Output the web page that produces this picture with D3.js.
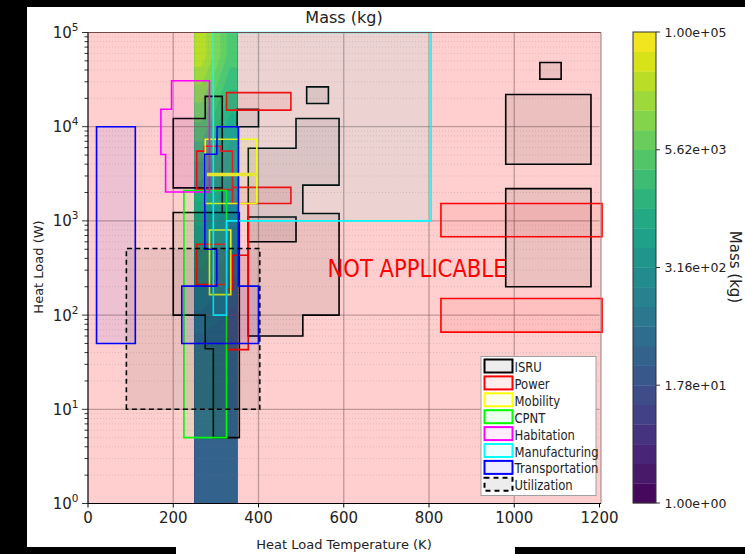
<!DOCTYPE html>
<html>
<head>
<meta charset="utf-8">
<script src="https://cdn.jsdelivr.net/npm/d3@7"></script>
<style>
  body { margin: 0; background: #fff; }
  text { font-family: "DejaVu Sans", sans-serif; }
</style>
</head>
<body>
<svg id="chart" width="745" height="554"></svg>
<script>
// ---- data ----
var xTicks = [0, 200, 400, 600, 800, 1000, 1200];
var yTicks = [1, 10, 100, 1000, 10000, 100000];
var cbTicks = [1, 17.8, 316, 5620, 100000];
var cbTickLabels = ["1.00e+00", "1.78e+01", "3.16e+02", "5.62e+03", "1.00e+05"];
var nLevels = 24;

var categories = ["ISRU", "Power", "Mobility", "CPNT", "Habitation", "Manufacturing", "Transportation", "Utilization"];
var catColors = ["#000000", "#ff0000", "#ffff00", "#00ff00", "#ff00ff", "#00ffff", "#0000ff", "#000000"];

// rectangles: [T min, T max, Q min, Q max]
var isruRects = [[1060, 1110, 32000, 48000], [980, 1180, 4000, 22000], [980, 1180, 200, 2200],
                 [513, 564, 17600, 26500], [350, 400, 10000, 15300], [376, 488, 600, 1100]];
var isruPolys = [
  [[376, 60], [376, 5900], [488, 5900], [488, 12200], [589, 12200], [589, 2400], [504, 2400], [504, 1200], [589, 1200], [589, 100], [504, 100], [504, 60]],
  [[200, 2240], [200, 12200], [275, 12200], [275, 21000], [315, 21000], [315, 1230], [315, 2240]],
  [[200, 100], [200, 1230], [355, 1230], [355, 5], [294, 5], [294, 44], [275, 44], [275, 100]]
];
var powerRects = [[325, 476, 15000, 23000], [339, 476, 1530, 2270], [255, 323, 211, 565],
                  [828, 1206, 680, 1530], [828, 1206, 66, 150]];
var powerPolys = [
  [[255, 2150], [255, 5500], [273, 5500], [273, 6200], [312, 6200], [312, 5500], [339, 5500], [339, 2150]],
  [[376, 1530], [376, 43], [327, 43], [327, 187], [339, 187], [339, 432], [376, 432]]
];
var mobilityRects = [[275, 396, 1530, 7360], [285, 335, 165, 800]];
var mobilityLines = [[[279, 3100], [396, 3100]]];
var cpntRects = [[225, 325, 5, 2100]];
var habitationPolys = [
  [[196, 30700], [285, 30700], [285, 2030], [182, 2030], [182, 5070], [171, 5070], [171, 15300], [196, 15300]]
];
var manufacturingPolys = [
  [[294, 100000], [805, 100000], [805, 1000], [325, 1000], [325, 100], [294, 100]]
];
var transportationRects = [[20, 111, 50, 10000]];
var transportationPolys = [
  [[303, 10000], [353, 10000], [353, 203], [400, 203], [400, 50], [220, 50], [220, 203], [302, 203], [302, 500], [274, 500], [274, 5100], [302, 5100]]
];
var utilizationRects = [[90, 403, 10, 510]];

// mass band (250-350 K), log10 of mass read at cell centres (rows: top to bottom)
var bandTempRange = [250, 350];
var bandLogQRange = [5, 0];
var bandLogMass = [
  [4.5, 4.1, 3.65],
  [3.95, 3.6, 3.2],
  [3.45, 3.15, 2.85],
  [2.95, 2.75, 2.5],
  [2.55, 2.35, 2.15],
  [2.05, 1.9, 1.75],
  [1.62, 1.56, 1.52],
  [1.52, 1.5, 1.5],
  [1.5, 1.5, 1.5],
  [1.5, 1.5, 1.5]
];

// ---- drawing ----
var svg = d3.select("#chart");
var x = d3.scaleLinear().domain([0, 1200]).range([88, 599.5]);
var y = d3.scaleLog().domain([1, 100000]).range([503.5, 32.5]);

svg.append("rect").attr("width", 745).attr("height", 554).attr("fill", "#fff");

// pink "not applicable" background
svg.append("rect")
  .attr("x", x(0)).attr("y", y(100000))
  .attr("width", 601 - x(0)).attr("height", y(1) - y(100000))
  .attr("fill", "#ffcfcf");

// mass band contours (grid padded by one cell on each side, then clipped)
var rows = bandLogMass.length, cols = bandLogMass[0].length;
var padded = [bandLogMass[0]].concat(bandLogMass, [bandLogMass[rows - 1]]).map(function(r) {
  return [r[0]].concat(r, [r[r.length - 1]]);
});
var bandValues = [].concat.apply([], padded);
var thresholds = d3.range(nLevels).map(function(i) { return i * 5 / nLevels; });
var contours = d3.contours().size([cols + 2, rows + 2]).thresholds(thresholds)(bandValues);
var gx = d3.scaleLinear().domain([1, cols + 1]).range(bandTempRange);
var gy = d3.scaleLinear().domain([1, rows + 1]).range(bandLogQRange);
var bandPath = d3.geoPath(d3.geoTransform({
  point: function(px, py) { this.stream.point(x(gx(px)), y(Math.pow(10, gy(py)))); }
}));
svg.append("clipPath").attr("id", "bandClip").append("rect")
  .attr("x", x(bandTempRange[0])).attr("y", y(100000))
  .attr("width", x(bandTempRange[1]) - x(bandTempRange[0])).attr("height", y(1) - y(100000));
svg.append("g").attr("clip-path", "url(#bandClip)")
  .selectAll("path").data(contours).join("path")
  .attr("d", bandPath)
  .attr("fill", function(d, i) { return d3.interpolateViridis((i + 0.5) / nLevels); })
  .attr("stroke", function(d, i) { return d3.interpolateViridis((i + 0.5) / nLevels); })
  .attr("stroke-width", 0.3);

// grid
var grid = svg.append("g");
grid.selectAll(".minor").data(y.ticks().filter(function(v) { return yTicks.indexOf(v) < 0; }))
  .join("line")
  .attr("x1", x(0)).attr("x2", x(1200))
  .attr("y1", function(d) { return y(d); }).attr("y2", function(d) { return y(d); })
  .attr("stroke", "#7f7f7f").attr("stroke-opacity", 0.35)
  .attr("stroke-dasharray", "1,2").attr("stroke-width", 0.8);
grid.selectAll(".hmaj").data(yTicks.slice(1, -1)).join("line")
  .attr("x1", x(0)).attr("x2", x(1200))
  .attr("y1", function(d) { return y(d); }).attr("y2", function(d) { return y(d); })
  .attr("stroke", "#7f6060").attr("stroke-opacity", 0.5).attr("stroke-width", 1.3);
grid.selectAll(".vmaj").data(xTicks.slice(1, -1)).join("line")
  .attr("x1", function(d) { return x(d); }).attr("x2", function(d) { return x(d); })
  .attr("y1", y(100000)).attr("y2", y(1))
  .attr("stroke", "#7f6060").attr("stroke-opacity", 0.5).attr("stroke-width", 1.3);

// shapes
function rectPoly(r) {
  return [[r[0], r[2]], [r[0], r[3]], [r[1], r[3]], [r[1], r[2]]];
}
var shapes = [];
function addShapes(cat, rects, polys) {
  (rects || []).forEach(function(r) { shapes.push({cat: cat, pts: rectPoly(r)}); });
  (polys || []).forEach(function(p) { shapes.push({cat: cat, pts: p}); });
}
addShapes(0, isruRects, isruPolys);
addShapes(1, powerRects, powerPolys);
addShapes(2, mobilityRects, null);
addShapes(3, cpntRects, null);
addShapes(4, null, habitationPolys);
addShapes(5, null, manufacturingPolys);
addShapes(6, transportationRects, transportationPolys);
addShapes(7, utilizationRects, null);

var line = d3.line().x(function(d) { return x(d[0]); }).y(function(d) { return y(d[1]); });
svg.append("g").selectAll("path").data(shapes).join("path")
  .attr("d", function(d) { return line(d.pts) + "Z"; })
  .attr("fill", function(d) { return catColors[d.cat]; })
  .attr("fill-opacity", 0.07)
  .attr("stroke", function(d) { return catColors[d.cat]; })
  .attr("stroke-width", 1.6)
  .attr("stroke-dasharray", function(d) { return categories[d.cat] === "Utilization" ? "5,3.5" : null; });

svg.append("g").selectAll("path").data(mobilityLines).join("path")
  .attr("d", line)
  .attr("stroke", "#e6e632").attr("stroke-width", 3.5).attr("fill", "none");

// spines
svg.append("line").attr("x1", x(0)).attr("x2", 601).attr("y1", y(100000)).attr("y2", y(100000))
  .attr("stroke", "#6e4a4a").attr("stroke-width", 1.2);
svg.append("line").attr("x1", 601).attr("x2", 601).attr("y1", y(100000)).attr("y2", y(1))
  .attr("stroke", "#9a7e7e").attr("stroke-width", 1);
svg.append("line").attr("x1", x(0)).attr("x2", x(0)).attr("y1", y(100000)).attr("y2", y(1))
  .attr("stroke", "#000").attr("stroke-width", 1.2);
svg.append("line").attr("x1", x(0)).attr("x2", 601).attr("y1", y(1)).attr("y2", y(1))
  .attr("stroke", "#000").attr("stroke-width", 1.2);

// y ticks
var yAxis = svg.append("g");
yAxis.selectAll(".mt").data(y.ticks()).join("line")
  .attr("x1", function(d) { return yTicks.indexOf(d) >= 0 ? x(0) - 6 : x(0) - 3.5; })
  .attr("x2", x(0))
  .attr("y1", function(d) { return y(d); }).attr("y2", function(d) { return y(d); })
  .attr("stroke", "#000").attr("stroke-width", 0.8);
var yl = yAxis.selectAll(".lab").data(yTicks).join("text")
  .attr("x", 78.5).attr("y", function(d) { return y(d) + 5.5; })
  .attr("text-anchor", "end").attr("font-size", 15).attr("fill", "#222");
yl.append("tspan").text("10");
yl.append("tspan").attr("dy", -7).attr("font-size", 10.5)
  .text(function(d) { return Math.round(Math.log10(d)); });

// x ticks
var xAxis = svg.append("g");
xAxis.selectAll("line").data(xTicks).join("line")
  .attr("x1", function(d) { return x(d); }).attr("x2", function(d) { return x(d); })
  .attr("y1", y(1)).attr("y2", y(1) + 4)
  .attr("stroke", "#000");
xAxis.selectAll("text").data(xTicks).join("text")
  .attr("x", function(d) { return x(d); }).attr("y", 523)
  .attr("text-anchor", "middle").attr("font-size", 15).attr("fill", "#222")
  .text(function(d) { return d; });

// axis labels and title
svg.append("text").attr("x", 344).attr("y", 549).attr("text-anchor", "middle")
  .attr("font-size", 13).attr("fill", "#222").text("Heat Load Temperature (K)");
svg.append("text").attr("transform", "translate(42.5,267) rotate(-90)").attr("text-anchor", "middle")
  .attr("font-size", 13).attr("fill", "#222").text("Heat Load (W)");
svg.append("text").attr("x", 344).attr("y", 23).attr("text-anchor", "middle")
  .attr("font-size", 16).attr("fill", "#222").text("Mass (kg)");

// NOT APPLICABLE
svg.append("text").attr("transform", "translate(417,277) scale(0.83,1)")
  .attr("text-anchor", "middle").attr("font-family", "Liberation Sans")
  .attr("font-size", 25.5).attr("fill", "#ff0000").text("NOT APPLICABLE");

// legend
var lg = svg.append("g");
lg.append("rect").attr("x", 481).attr("y", 356.5).attr("width", 115).attr("height", 139)
  .attr("fill", "#fff").attr("stroke", "#a0a0a0").attr("stroke-width", 1);
var items = lg.selectAll(".it").data(categories).join("g")
  .attr("transform", function(d, i) { return "translate(484," + (359.5 + i * 16.9) + ")"; });
items.append("rect").attr("x", 0.5).attr("y", 0).attr("width", 28).attr("height", 13)
  .attr("fill", function(d, i) { return d3.interpolateRgb("#fff", catColors[i])(0.07); })
  .attr("stroke", function(d, i) { return catColors[i]; }).attr("stroke-width", 2)
  .attr("stroke-dasharray", function(d) { return d === "Utilization" ? "5,4" : null; });
items.append("text").attr("transform", "translate(30.5,12.5) scale(0.83,1)")
  .attr("font-family", "Liberation Sans").attr("font-size", 14).attr("fill", "#222")
  .text(function(d) { return d; });

// colorbar
var cb = d3.scaleLog().domain([1, 100000]).range([503, 32]);
var cbg = svg.append("g");
cbg.selectAll("rect").data(d3.range(nLevels)).join("rect")
  .attr("x", 633).attr("width", 23)
  .attr("y", function(i) { return cb(Math.pow(10, (i + 1) * 5 / nLevels)); })
  .attr("height", function(i) { return cb(Math.pow(10, i * 5 / nLevels)) - cb(Math.pow(10, (i + 1) * 5 / nLevels)) + 0.3; })
  .attr("fill", function(i) { return d3.interpolateViridis((i + 0.5) / nLevels); });
cbg.append("rect").attr("x", 633).attr("y", 32).attr("width", 23).attr("height", 471)
  .attr("fill", "none").attr("stroke", "#333").attr("stroke-width", 1);
cbg.selectAll("line").data(cbTicks).join("line")
  .attr("x1", 656).attr("x2", 660)
  .attr("y1", function(d) { return cb(d); }).attr("y2", function(d) { return cb(d); })
  .attr("stroke", "#333");
cbg.selectAll("text").data(cbTicks).join("text")
  .attr("x", 664.5).attr("y", function(d) { return cb(d) + 4.6; })
  .attr("font-size", 12.5).attr("fill", "#222")
  .text(function(d, i) { return cbTickLabels[i]; });
svg.append("text").attr("transform", "translate(730,267) rotate(90)").attr("text-anchor", "middle")
  .attr("font-size", 15).attr("fill", "#222").text("Mass (kg)");

// black frame around the figure
var frame = [[0, 0, 745, 7], [0, 0, 27, 554], [0, 547, 176, 7], [515, 547, 230, 7]];
svg.append("g").selectAll("rect").data(frame).join("rect")
  .attr("x", function(d) { return d[0]; }).attr("y", function(d) { return d[1]; })
  .attr("width", function(d) { return d[2]; }).attr("height", function(d) { return d[3]; })
  .attr("fill", "#000");
</script>
</body>
</html>
